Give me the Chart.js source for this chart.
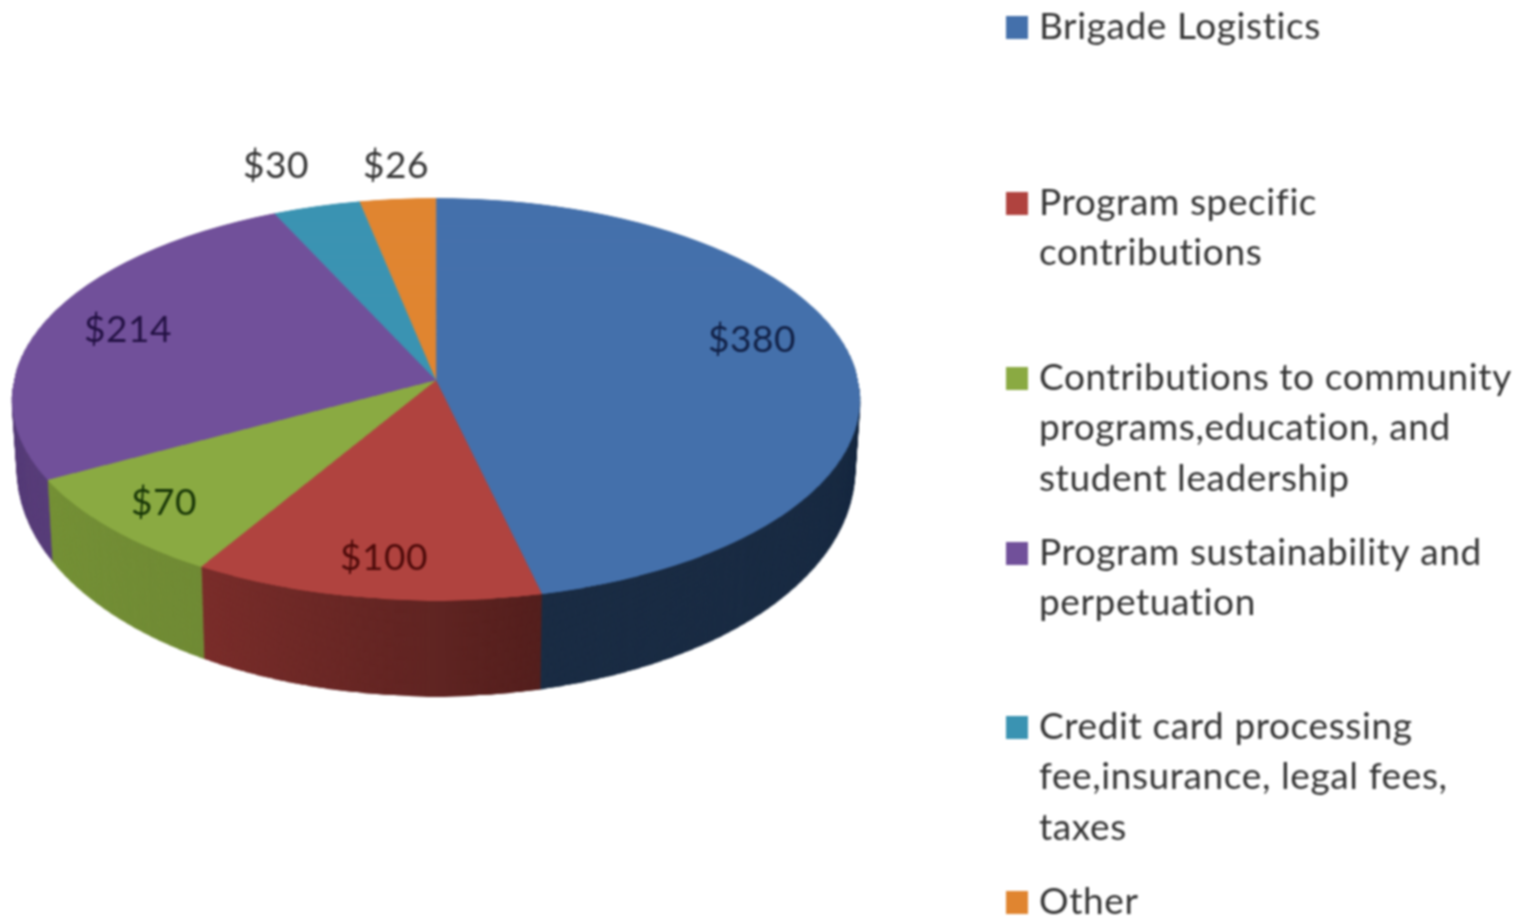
<!DOCTYPE html>
<html>
<head>
<meta charset="utf-8">
<title>Pie</title>
<script src="https://cdn.jsdelivr.net/npm/chart.js@4"></script>
<style>
  html, body { margin: 0; background: #fff; }
  canvas { display: block; filter: blur(0.9px); }
</style>
</head>
<body>
<canvas id="pie" width="1531" height="919"></canvas>
<script>
var categories = [
  "Brigade Logistics",
  "Program specific contributions",
  "Contributions to community programs,education, and student leadership",
  "Program sustainability and perpetuation",
  "Credit card processing fee,insurance, legal fees, taxes",
  "Other"
];
var values = [380, 100, 70, 214, 30, 26];
var colors = ["#4470ab", "#b0433f", "#8aaa42", "#71509a", "#3a93b2", "#e08530"];

// legend text as it wraps in the picture
var legendLines = [
  ["Brigade Logistics"],
  ["Program specific", "contributions"],
  ["Contributions to community", "programs,education, and", "student leadership"],
  ["Program sustainability and", "perpetuation"],
  ["Credit card processing", "fee,insurance, legal fees,", "taxes"],
  ["Other"]
];
var legendLineOffset = [0, 50, 101];
var legendCenters = [27, 203, 378, 553, 727, 902];

// centre of each "$" label on the page
var labelX = [752, 384, 164, 128, 276, 396];
var labelY = [340, 558, 503, 330, 166, 166];
var labelColors = ["rgba(8,18,50,.85)", "rgba(60,0,0,.85)", "rgba(10,40,0,.9)", "rgba(20,5,50,.85)", "#333", "#333"];

// how dark the side wall gets, at the start and end of each slice
var sideShadeStart = [0.6, 0.52, 0.18, 0.2, 0.3, 0.3];
var sideShadeEnd = [0.6, 0.3, 0.14, 0.2, 0.3, 0.3];

// perspective of the disc: apex, rim and wall height
var apexX = 436, apexY = 380, halfWidth = 422;
var perspA = 163.3, perspC = -0.0945;
var wallNear = 28, wallBase = 68;

function warp(ctx, src, arc, depth, firstRow) {
  var R = arc.outerRadius;
  for (var sy = Math.floor(firstRow); sy < Math.ceil(arc.y + R); sy++) {
    var v = (sy - arc.y) / R;
    var v2 = (sy + 1 - arc.y) / R;
    var y = (perspA * v + apexY) / (1 + perspC * v) + depth * (wallBase + wallNear * v);
    var y2 = (perspA * v2 + apexY) / (1 + perspC * v2) + depth * (wallBase + wallNear * v2);
    var scale = (halfWidth / R) / (1 + perspC * v) * (1 - 0.012 * depth);
    ctx.drawImage(src, arc.x - R, sy, 2 * R, 1,
      apexX - R * scale, y, 2 * R * scale, y2 - y + 0.6);
  }
}

var tiltPlugin = {
  id: "tilt",
  afterDatasetsDraw: function (chart) {
    var ctx = chart.ctx;
    var arcs = chart.getDatasetMeta(0).data;
    var W = chart.canvas.width, H = chart.canvas.height;

    // grab the flat pie the library just drew
    var flat = document.createElement("canvas");
    flat.width = W; flat.height = H;
    flat.getContext("2d").drawImage(chart.canvas, 0, 0);

    // darker copy for the side wall
    var side = document.createElement("canvas");
    side.width = W; side.height = H;
    var sctx = side.getContext("2d");
    sctx.drawImage(flat, 0, 0);
    var shade = sctx.createConicGradient(-Math.PI / 2, arcs[0].x, arcs[0].y);
    arcs.forEach(function (arc, i) {
      var from = (arc.startAngle + Math.PI / 2) / (2 * Math.PI);
      var to = (arc.endAngle + Math.PI / 2) / (2 * Math.PI);
      shade.addColorStop(Math.min(from, 1), "rgba(0,0,0," + sideShadeStart[i] + ")");
      shade.addColorStop(Math.min(to, 1), "rgba(0,0,0," + sideShadeEnd[i] + ")");
    });
    sctx.globalCompositeOperation = "source-atop";
    sctx.fillStyle = shade;
    sctx.fillRect(0, 0, W, H);

    ctx.save();
    ctx.clearRect(0, 0, W, H);
    ctx.fillStyle = "#fff";
    ctx.fillRect(0, 0, W, H);
    var arc = arcs[0];
    for (var d = 1; d > 0; d -= 0.01) {
      warp(ctx, side, arc, d, arc.y - 0.2 * arc.outerRadius);
    }
    warp(ctx, flat, arc, 0, arc.y - arc.outerRadius);
    ctx.restore();

    // value labels
    ctx.save();
    ctx.font = "37px Lato";
    ctx.letterSpacing = "0.6px";
    ctx.textAlign = "center";
    ctx.textBaseline = "middle";
    values.forEach(function (value, i) {
      ctx.fillStyle = labelColors[i];
      ctx.fillText("$" + value, labelX[i], labelY[i]);
    });

    // legend
    ctx.textAlign = "left";
    ctx.textBaseline = "alphabetic";
    legendLines.forEach(function (lines, i) {
      ctx.fillStyle = colors[i];
      ctx.fillRect(1006, legendCenters[i] - 11, 22, 23);
      ctx.fillStyle = "#333";
      lines.forEach(function (line, j) {
        ctx.fillText(line, 1039, legendCenters[i] + 12 + legendLineOffset[j]);
      });
    });
    ctx.restore();
  }
};

new Chart(document.getElementById("pie"), {
  type: "pie",
  data: {
    labels: categories,
    datasets: [{
      data: values,
      backgroundColor: colors,
      borderWidth: 0
    }]
  },
  options: {
    responsive: false,
    animation: false,
    devicePixelRatio: 1,
    plugins: {
      legend: { display: false },
      tooltip: { enabled: false }
    }
  },
  plugins: [tiltPlugin]
});
</script>
</body>
</html>
